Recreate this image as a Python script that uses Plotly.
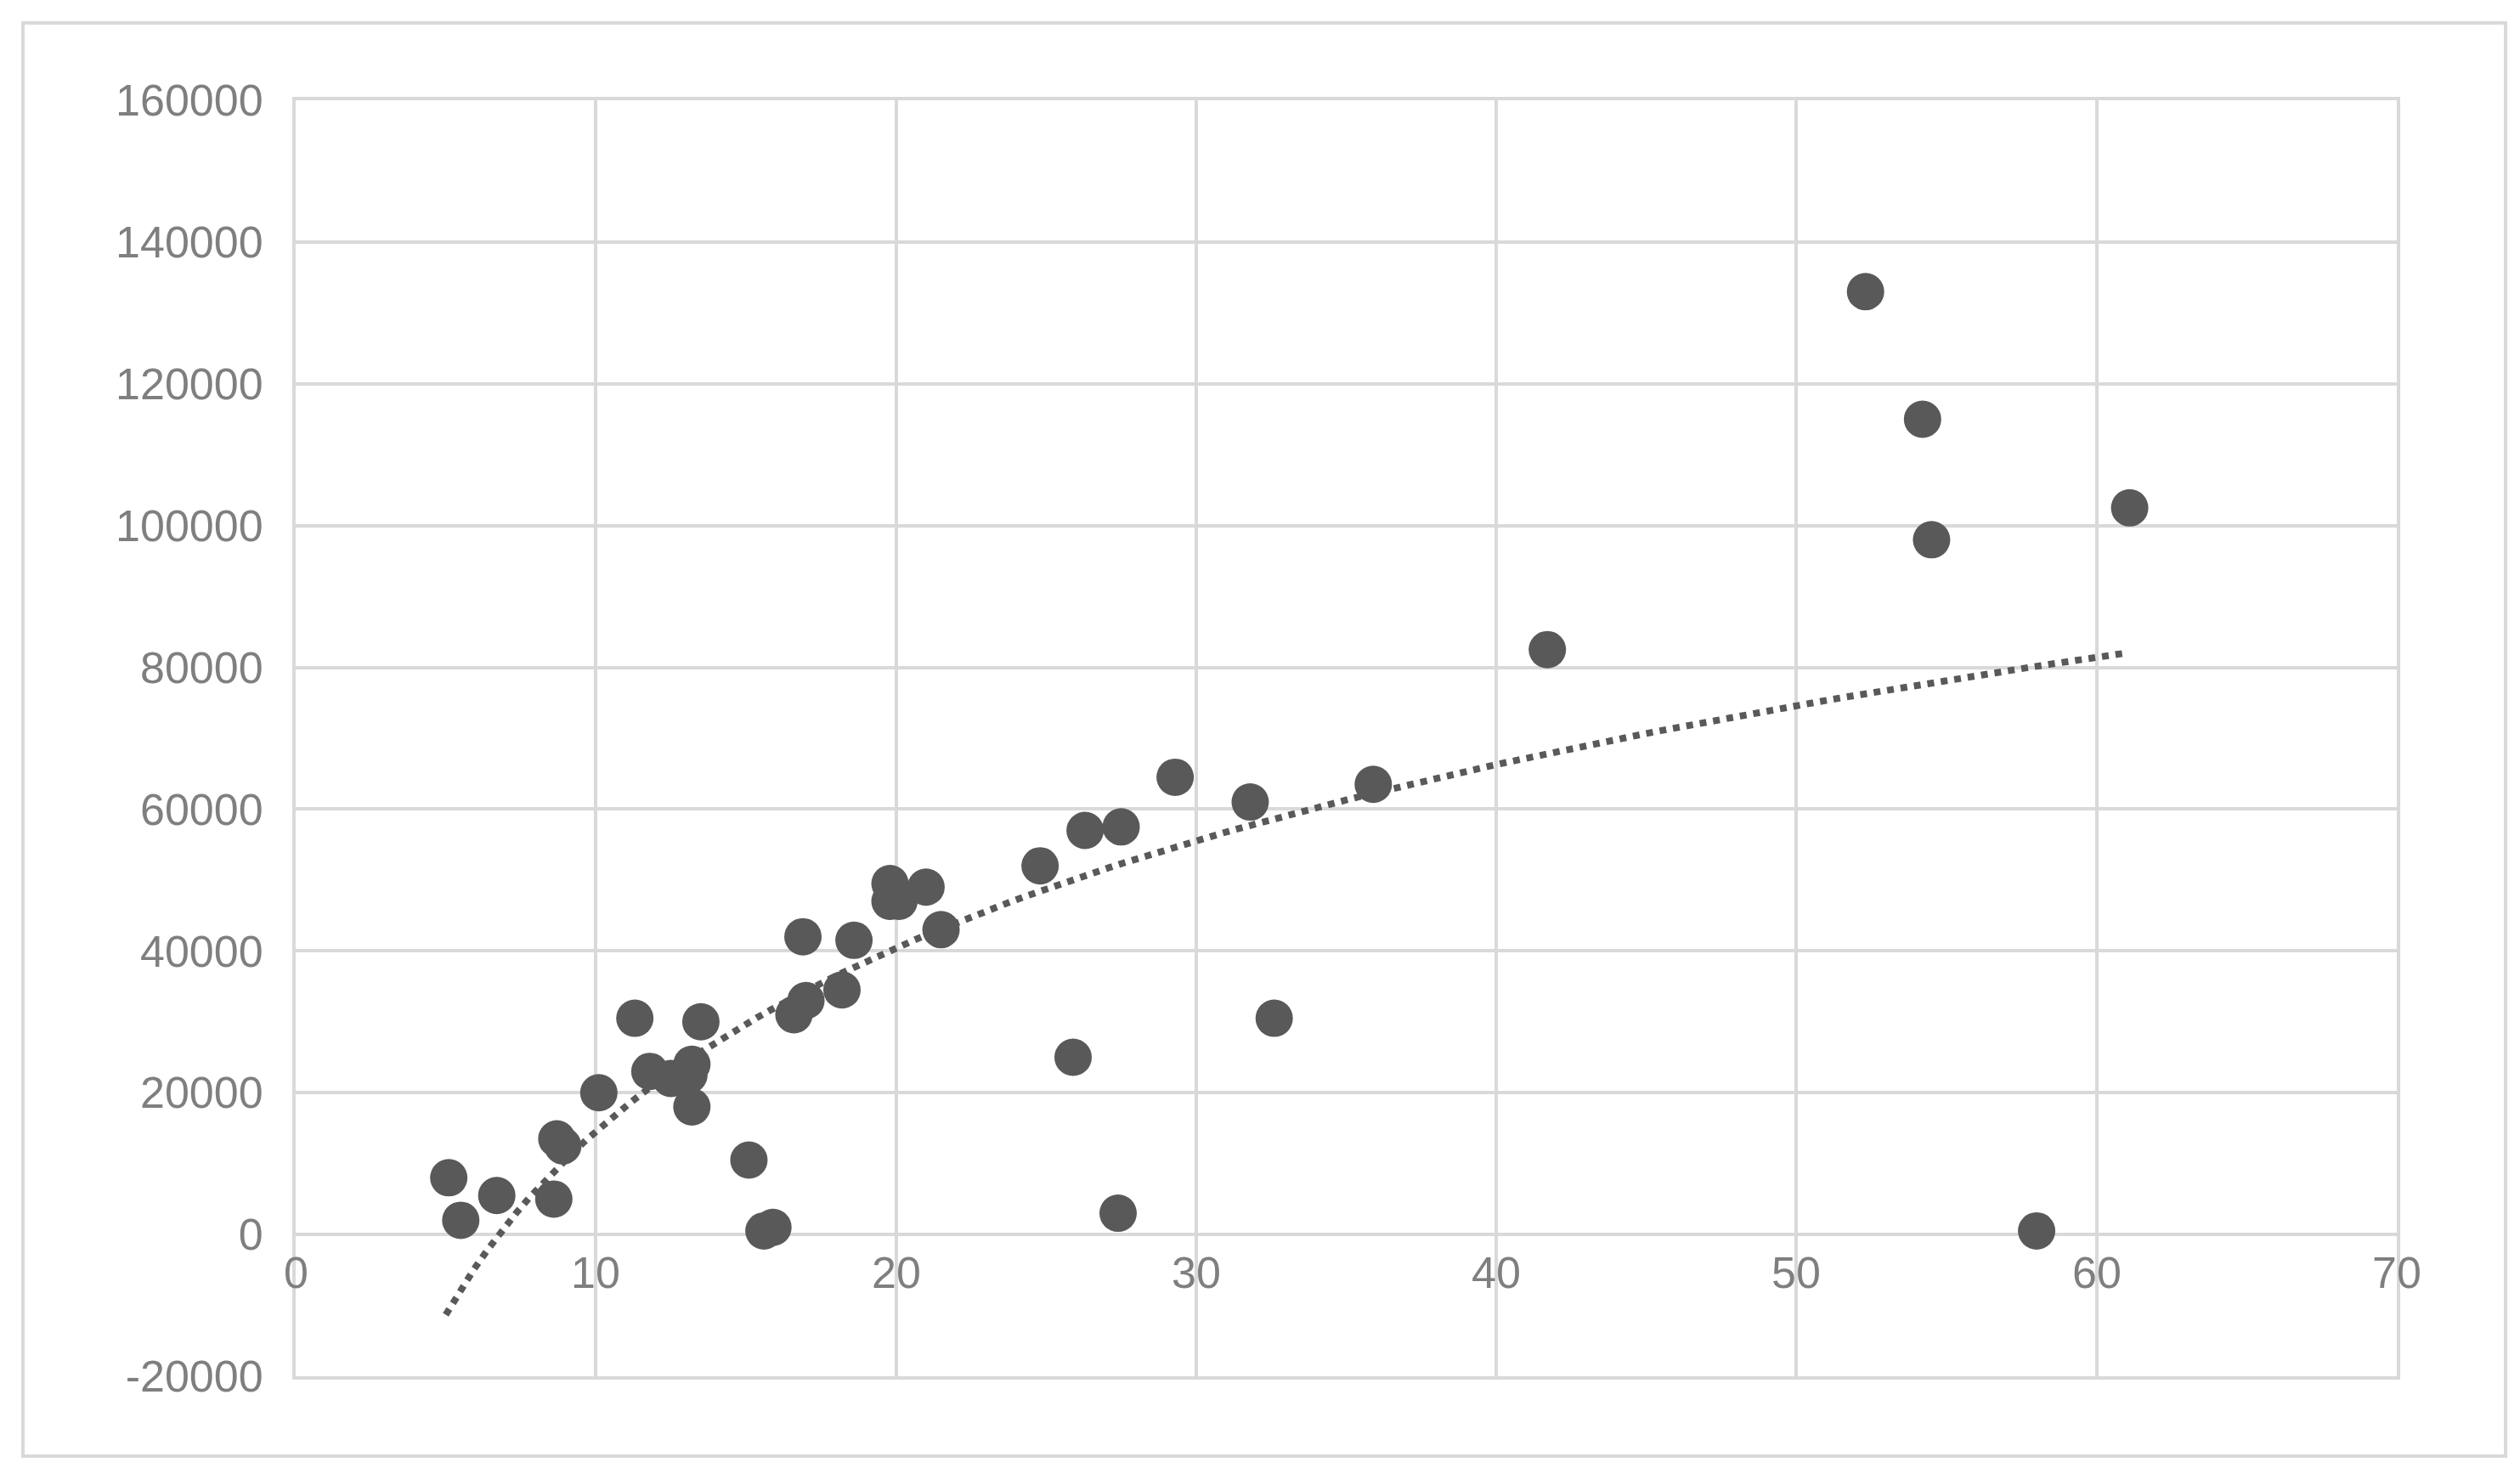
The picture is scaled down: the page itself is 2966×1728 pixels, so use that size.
import numpy as np
import plotly.graph_objects as go

# scatter values
xs = [5.1, 5.5, 6.7, 8.6, 8.7, 8.9, 10.1, 11.3, 11.8, 12.5, 13.1, 13.2, 13.2, 13.5,
      15.1, 15.6, 15.9, 16.6, 16.9, 17.0, 18.2, 18.6, 19.8, 19.8, 20.1, 21.0, 21.5,
      24.8, 25.9, 26.3, 27.4, 27.5, 29.3, 31.8, 32.6, 35.9, 41.7, 52.3, 54.2, 54.5,
      58.0, 61.1]
ys = [8000, 2000, 5500, 5000, 13500, 12500, 20000, 30500, 23000, 22000, 22500, 24000,
      18000, 30000, 10500, 500, 1000, 31000, 42000, 33000, 34500, 41500, 49500, 47000,
      47000, 49000, 43000, 52000, 25000, 57000, 3000, 57500, 64500, 61000, 30500, 63500,
      82500, 133000, 115000, 98000, 500, 102500]
x_ticks = [0, 10, 20, 30, 40, 50, 60, 70]
y_ticks = [-20000, 0, 20000, 40000, 60000, 80000, 100000, 120000, 140000, 160000]

grey = "#595959"
label = "#7f7f7f"
grid = "#d9d9d9"

# logarithmic trendline, Excel style
a, b = np.polyfit(np.log(xs), ys, 1)
tx = np.linspace(5.0, 61.0, 120)
ty = a * np.log(tx) + b

fig = go.Figure()
fig.add_trace(go.Scatter(x=tx, y=ty, mode="lines",
                         line=dict(color=grey, width=8, dash="dot"), showlegend=False))
fig.add_trace(go.Scatter(x=xs, y=ys, mode="markers",
                         marker=dict(size=44, color=grey), showlegend=False))

# x tick labels sit below the y=0 line
for t in x_ticks:
    fig.add_annotation(x=t, y=0, text=str(t), showarrow=False, yanchor="top",
                       yshift=-14, font=dict(size=52, color=label,
                                             family="Liberation Sans"))

fig.add_shape(type="rect", xref="paper", yref="paper",
              x0=-0.1298, x1=1.0518, y0=-0.0626, y1=1.0606,
              line=dict(color=grid, width=4))

fig.update_layout(
    width=2966, height=1728,
    margin=dict(l=340, r=153, t=110, b=116),
    plot_bgcolor="white", paper_bgcolor="white",
    font=dict(family="Liberation Sans", size=52, color=label),
)
fig.update_xaxes(range=[0, 70], tickvals=x_ticks, showticklabels=False,
                 showgrid=True, gridcolor=grid, gridwidth=4, zeroline=False,
                 showline=True, linecolor=grid, linewidth=4, mirror=True)
fig.update_yaxes(range=[-20000, 160000], tickvals=y_ticks,
                 ticktext=[str(v) for v in y_ticks],
                 showgrid=True, gridcolor=grid, gridwidth=4, zeroline=True,
                 zerolinecolor=grid, zerolinewidth=4,
                 showline=True, linecolor=grid, linewidth=4, mirror=True,
                 ticklabelstandoff=24)

fig.write_html("out.html")
